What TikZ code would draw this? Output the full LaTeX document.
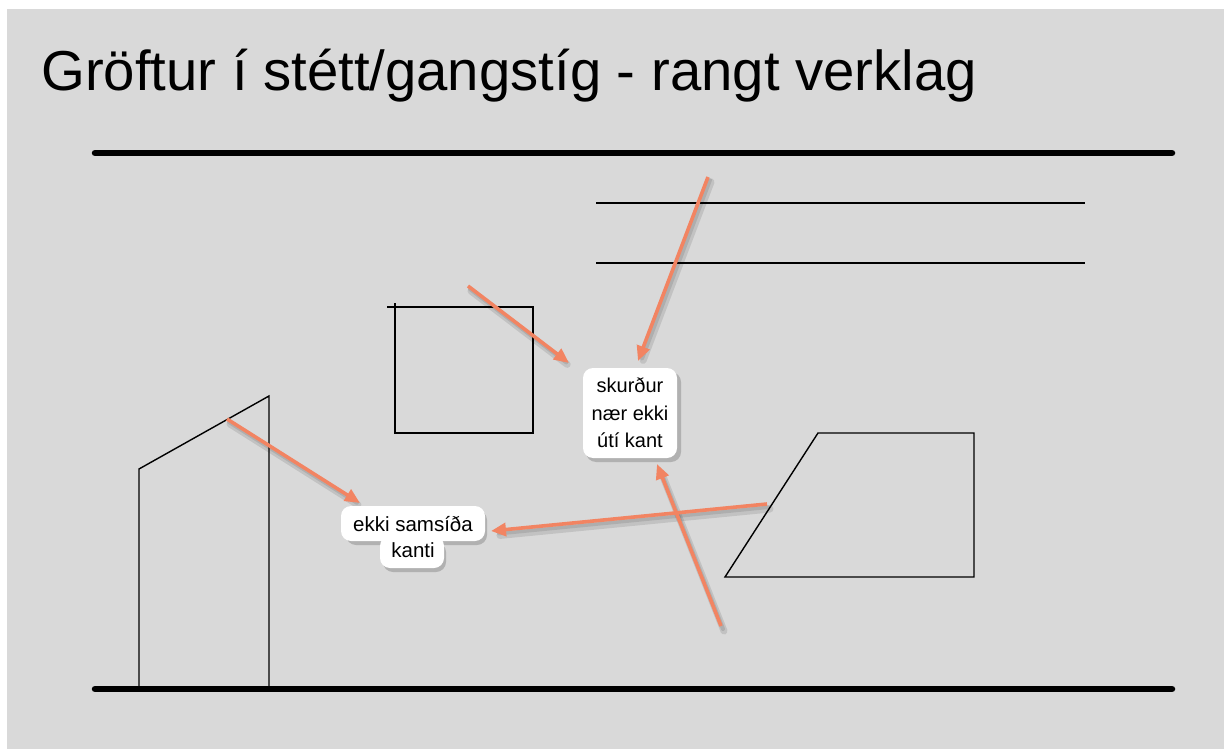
\documentclass[tikz,border=0pt]{standalone}
\usepackage{fontspec}
\setmainfont{Liberation Sans}
\usetikzlibrary{arrows.meta}
\definecolor{bggray}{RGB}{217,217,217}
\definecolor{coral}{RGB}{242,132,98}
\tikzset{
  thickline/.style={line width=6.5pt, line cap=round},
  thinline/.style={line width=1.6pt},
  shapeline/.style={line width=1.4pt, line join=miter},
  arrowshadow/.style={line width=7pt, draw=black, opacity=0.10, line cap=round, shorten >=6pt},
  arrowline/.style={line width=3.6pt, draw=coral, -{Triangle[length=15pt,width=13pt]}},
  blobshadow/.style={fill=black, opacity=0.18, rounded corners=10pt},
  blob/.style={fill=white, rounded corners=10pt},
  lab/.style={align=center, text=black, inner sep=0pt},
}
\begin{document}
\begin{tikzpicture}[x=1pt,y=-1pt]
\useasboundingbox (0,0) rectangle (1224,749);
\fill[white] (0,0) rectangle (1224,749);
\fill[bggray] (7,9) rectangle (1224,749);

% title
\node[anchor=base west, inner sep=0pt, font=\fontsize{56.3}{60}\selectfont] (title) at (41,91) {Gröftur í stétt/gangstíg - rangt verklag};

% thick border lines
\draw[thickline] (95,153) -- (1172,153);
\draw[thickline] (95,689) -- (1172,689);

% thin lines
\draw[thinline] (596,203) -- (1085,203);
\draw[thinline] (596,263) -- (1085,263);

% square
\draw[shapeline] (387,307) -- (533,307) -- (533,433) -- (395,433) -- (395,303);

% left shape
\draw[shapeline] (139,689) -- (139,469) -- (269,396) -- (269,689);

% trapezoid
\draw[shapeline] (725,577) -- (818,433) -- (974,433) -- (974,577) -- cycle;

% arrow end points
\coordinate (a1s) at (708,177); \coordinate (a1e) at (638,361);
\coordinate (a2s) at (468,286); \coordinate (a2e) at (569,363);
\coordinate (a3s) at (721,626); \coordinate (a3e) at (657,464);
\coordinate (a4s) at (767,504); \coordinate (a4e) at (491,531);
\coordinate (a5s) at (227,419); \coordinate (a5e) at (360,503);

% arrow shadows
\foreach \s/\e in {a1s/a1e,a2s/a2e,a3s/a3e,a4s/a4e,a5s/a5e}{
  \draw[arrowshadow, transform canvas={shift={(3pt,-5pt)}}] (\s) -- (\e);
  \draw[arrowshadow, line width=4pt, transform canvas={shift={(2pt,-3pt)}}] (\s) -- (\e);
}
% arrows
\foreach \s/\e in {a1s/a1e,a2s/a2e,a3s/a3e,a4s/a4e,a5s/a5e}{
  \draw[arrowline] (\s) -- (\e);
}

% label blobs
\fill[blobshadow] (586,372) rectangle (681,462);
\fill[blobshadow] (346,510) rectangle (487,545);
\fill[blobshadow] (383,542) rectangle (446,572);
\fill[blob] (583,368) rectangle (677,458);
\fill[blob] (341,506) rectangle (485,541);
\fill[blob] (380,536) rectangle (444,568);

% labels
\node[lab, font=\fontsize{20}{27.5}\selectfont] (l1) at (630,413) {skurður\\nær ekki\\útí kant};
\node[lab, font=\fontsize{20.5}{26}\selectfont] (l2) at (413,537) {ekki samsíða\\kanti};
\end{tikzpicture}
\end{document}
